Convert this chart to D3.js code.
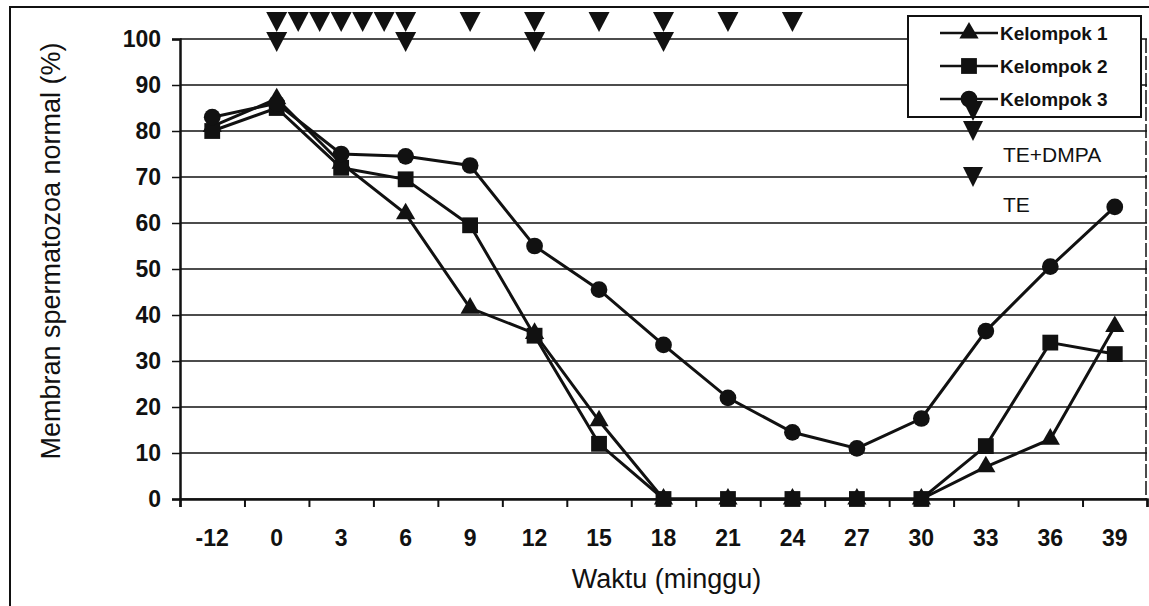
<!DOCTYPE html>
<html>
<head>
<meta charset="utf-8">
<script src="https://cdn.jsdelivr.net/npm/d3@7"></script>
<style>
  body { margin: 0; background: #fff; }
  text { font-family: "Liberation Sans", Arial, sans-serif; fill: #111; }
</style>
</head>
<body>
<div id="chart"></div>
<script>
// chart data
var weeks = ["-12", "0", "3", "6", "9", "12", "15", "18", "21", "24", "27", "30", "33", "36", "39"];
var kelompok1 = [81, 87, 73, 62, 41.5, 36, 17, 0, 0, 0, 0, 0, 7, 13, 37.5];
var kelompok2 = [80, 85, 72, 69.5, 59.5, 35.5, 12, 0, 0, 0, 0, 0, 11.5, 34, 31.5];
var kelompok3 = [83, 86, 75, 74.5, 72.5, 55, 45.5, 33.5, 22, 14.5, 11, 17.5, 36.5, 50.5, 63.5];
var yTicks = [0, 10, 20, 30, 40, 50, 60, 70, 80, 90, 100];
// injection weeks
var teWeeks = [0, 1, 2, 3, 4, 5, 6, 9, 12, 15, 18, 21, 24];
var dmpaWeeks = [0, 6, 12, 18];

var svgWidth = 1149;
var svgHeight = 606;

var margin = { top: 39, right: 2, bottom: 107, left: 180 };
var chartWidth = svgWidth - margin.left - margin.right;
var chartHeight = svgHeight - margin.top - margin.bottom;

var svg = d3.select("#chart")
  .append("svg")
  .attr("width", svgWidth)
  .attr("height", svgHeight);

// outer frame of the chart object
svg.append("rect")
  .attr("x", 10)
  .attr("y", 7)
  .attr("width", 1200)
  .attr("height", 700)
  .attr("fill", "none")
  .attr("stroke", "#111")
  .attr("stroke-width", 2);

var chartGroup = svg.append("g")
  .attr("transform", `translate(${margin.left}, ${margin.top})`);

var xBand = d3.scaleBand()
  .domain(weeks)
  .range([0, chartWidth]);

var xCenter = d => xBand(d) + xBand.bandwidth() / 2;

var yLinearScale = d3.scaleLinear()
  .domain([0, 100])
  .range([chartHeight, 0]);

// week -> x for the injection marks
var weekScale = d3.scaleLinear()
  .domain([0, 39])
  .range([xCenter("0"), xCenter("39")]);

// grid lines
chartGroup.append("g")
  .selectAll("line")
  .data(yTicks)
  .enter()
  .append("line")
  .attr("x1", 0)
  .attr("x2", chartWidth)
  .attr("y1", d => yLinearScale(d))
  .attr("y2", d => yLinearScale(d))
  .attr("stroke", "#111")
  .attr("stroke-width", 1.6);

// right edge of the plot area
chartGroup.append("line")
  .attr("x1", chartWidth - 1)
  .attr("x2", chartWidth - 1)
  .attr("y1", 0)
  .attr("y2", chartHeight)
  .attr("stroke", "#111")
  .attr("stroke-width", 1.5)
  .attr("stroke-dasharray", "14,3");

// y axis
var leftAxis = d3.axisLeft(yLinearScale)
  .tickValues(yTicks)
  .tickSize(8)
  .tickPadding(11);

var yAxis = chartGroup.append("g")
  .call(leftAxis);
yAxis.select(".domain").attr("stroke-width", 2.5).attr("stroke", "#111");
yAxis.selectAll(".tick line").attr("stroke-width", 1.5).attr("stroke", "#111");
yAxis.selectAll("text")
  .style("font-size", "23px")
  .style("font-weight", "bold")
  .attr("fill", "#111");

// x axis: labels centred in each band, tick marks on the band edges
var bottomAxis = d3.axisBottom(xBand)
  .tickSize(0)
  .tickPadding(31);

var xAxis = chartGroup.append("g")
  .attr("transform", `translate(0, ${chartHeight})`)
  .call(bottomAxis);
xAxis.select(".domain").remove();
xAxis.selectAll("text")
  .style("font-size", "23px")
  .style("font-weight", "bold")
  .attr("fill", "#111");

var edgeScale = d3.scaleLinear().domain([0, weeks.length]).range([0, chartWidth]);
var edgeAxis = d3.axisBottom(edgeScale)
  .ticks(weeks.length)
  .tickSize(8)
  .tickFormat("");
var edges = chartGroup.append("g")
  .attr("transform", `translate(0, ${chartHeight})`)
  .call(edgeAxis);
edges.select(".domain").attr("stroke-width", 2.5).attr("stroke", "#111");
edges.selectAll(".tick line").attr("stroke-width", 2).attr("stroke", "#111");

// axis titles
chartGroup.append("text")
  .attr("x", chartWidth / 2 + 3)
  .attr("y", chartHeight + 89)
  .attr("text-anchor", "middle")
  .style("font-size", "27px")
  .text("Waktu (minggu)");

chartGroup.append("text")
  .attr("transform", "rotate(-90)")
  .attr("x", 0 - 212)
  .attr("y", 0 - 120)
  .attr("text-anchor", "middle")
  .style("font-size", "27px")
  .text("Membran spermatozoa normal (%)");

// series
var series = [
  { name: "Kelompok 1", values: kelompok1, symbol: d3.symbolTriangle, size: 160 },
  { name: "Kelompok 2", values: kelompok2, symbol: d3.symbolSquare, size: 250 },
  { name: "Kelompok 3", values: kelompok3, symbol: d3.symbolCircle, size: 220 }
];

var drawLine = d3.line()
  .x((d, i) => xCenter(weeks[i]))
  .y(d => yLinearScale(d));

series.forEach(function(s) {
  chartGroup.append("path")
    .attr("d", drawLine(s.values))
    .attr("fill", "none")
    .attr("stroke", "#111")
    .attr("stroke-width", 3);

  chartGroup.append("g")
    .selectAll("path")
    .data(s.values)
    .enter()
    .append("path")
    .attr("transform", (d, i) => `translate(${xCenter(weeks[i])}, ${yLinearScale(d)})`)
    .attr("d", d3.symbol().type(s.symbol).size(s.size))
    .attr("fill", "#111");
});

// down triangle used for the injections
function downTriangle(w, h) {
  return `M${-w / 2},${-h / 2}L${w / 2},${-h / 2}L0,${h / 2}Z`;
}

svg.append("g")
  .selectAll("path")
  .data(teWeeks)
  .enter()
  .append("path")
  .attr("transform", d => `translate(${margin.left + weekScale(d)}, 22)`)
  .attr("d", downTriangle(21, 20))
  .attr("fill", "#111");

svg.append("g")
  .selectAll("path")
  .data(dmpaWeeks)
  .enter()
  .append("path")
  .attr("transform", d => `translate(${margin.left + weekScale(d)}, 42)`)
  .attr("d", downTriangle(21, 20))
  .attr("fill", "#111");

// legend
var legend = svg.append("g");
legend.append("rect")
  .attr("x", 908)
  .attr("y", 16)
  .attr("width", 233)
  .attr("height", 101)
  .attr("fill", "#fff")
  .attr("stroke", "#111")
  .attr("stroke-width", 2);

series.forEach(function(s, i) {
  var ly = 33 + i * 33;
  legend.append("line")
    .attr("x1", 940)
    .attr("x2", 998)
    .attr("y1", ly)
    .attr("y2", ly)
    .attr("stroke", "#111")
    .attr("stroke-width", 2.5);
  legend.append("path")
    .attr("transform", `translate(969, ${ly})`)
    .attr("d", d3.symbol().type(s.symbol).size(s.size))
    .attr("fill", "#111");
  legend.append("text")
    .attr("x", 1000)
    .attr("y", ly)
    .attr("dy", "0.35em")
    .style("font-size", "19px")
    .style("font-weight", "bold")
    .text(s.name);
});

legend.append("path")
  .attr("transform", "translate(973, 111)")
  .attr("d", downTriangle(20, 20))
  .attr("fill", "#111");
legend.append("path")
  .attr("transform", "translate(973, 131)")
  .attr("d", downTriangle(20, 20))
  .attr("fill", "#111");
legend.append("text")
  .attr("x", 1003)
  .attr("y", 155)
  .attr("dy", "0.35em")
  .style("font-size", "21px")
  .text("TE+DMPA");

legend.append("path")
  .attr("transform", "translate(973, 177)")
  .attr("d", downTriangle(20, 20))
  .attr("fill", "#111");
legend.append("text")
  .attr("x", 1003)
  .attr("y", 205)
  .attr("dy", "0.35em")
  .style("font-size", "21px")
  .text("TE");
</script>
</body>
</html>
